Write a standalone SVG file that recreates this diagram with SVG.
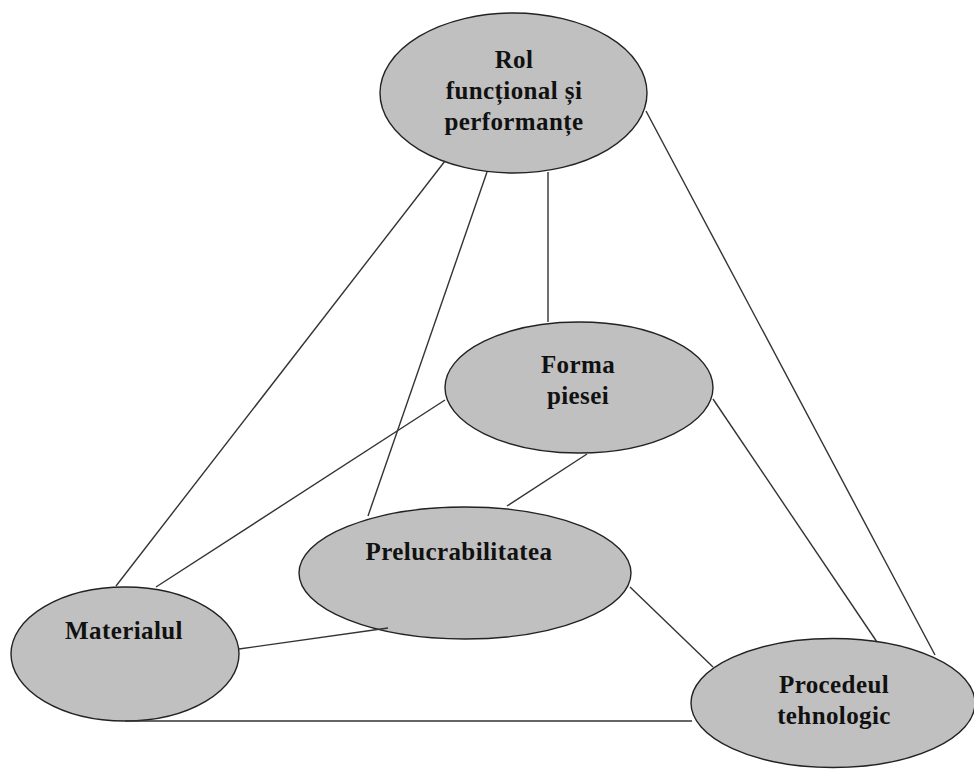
<svg xmlns="http://www.w3.org/2000/svg" width="974" height="769" viewBox="0 0 974 769">
  <style>
    .node { fill: #c0c0c0; stroke: #222222; stroke-width: 1.4; }
    .lbl { font-family: "Liberation Serif", "Times New Roman", serif; font-weight: bold; font-size: 25px; letter-spacing: 0.4px; fill: #111111; text-anchor: middle; }
    .link { stroke: #333333; stroke-width: 1.4; fill: none; }
  </style>
  <rect width="974" height="769" fill="#ffffff"/>

  <g id="node-rol">
    <ellipse class="node" cx="513.5" cy="93" rx="133.5" ry="80"/>
    <text class="lbl" x="514" y="68">Rol</text>
    <text class="lbl" x="514" y="99">funcțional și</text>
    <text class="lbl" x="514" y="130">performanțe</text>
  </g>

  <g id="node-forma">
    <ellipse class="node" cx="579" cy="387.5" rx="134" ry="65.5"/>
    <text class="lbl" x="578" y="373">Forma</text>
    <text class="lbl" x="578" y="404">piesei</text>
  </g>

  <g id="node-prelucrabilitatea">
    <ellipse class="node" cx="465" cy="573" rx="166" ry="66"/>
    <text class="lbl" x="459" y="560">Prelucrabilitatea</text>
  </g>

  <g id="node-materialul">
    <ellipse class="node" cx="125" cy="654" rx="114" ry="67"/>
    <text class="lbl" x="124" y="639">Materialul</text>
  </g>

  <g id="node-procedeul">
    <ellipse class="node" cx="833" cy="703" rx="142" ry="64.5"/>
    <text class="lbl" x="834" y="693">Procedeul</text>
    <text class="lbl" x="834" y="724">tehnologic</text>
  </g>

  <g id="connectors">
    <line class="link" x1="445" y1="161" x2="116" y2="586"/>
    <line class="link" x1="487" y1="172" x2="368" y2="516"/>
    <line class="link" x1="548" y1="172" x2="548" y2="322"/>
    <line class="link" x1="646" y1="111" x2="935" y2="655"/>
    <line class="link" x1="445" y1="400" x2="156" y2="587"/>
    <line class="link" x1="587" y1="454" x2="507" y2="506"/>
    <line class="link" x1="713" y1="399" x2="877" y2="642"/>
    <line class="link" x1="239" y1="649" x2="388" y2="628"/>
    <line class="link" x1="630" y1="587" x2="713" y2="667"/>
    <line class="link" x1="125" y1="721" x2="692" y2="721"/>
  </g>
</svg>
